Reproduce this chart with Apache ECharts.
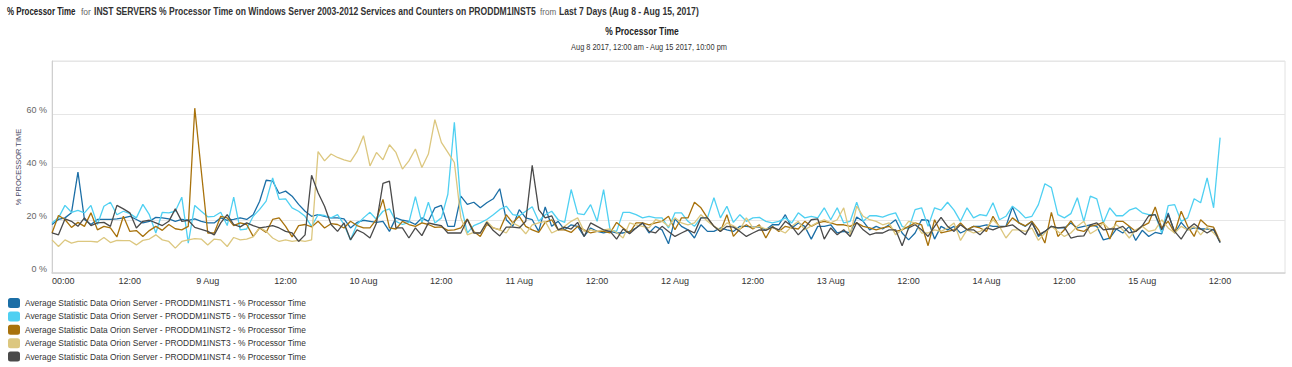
<!DOCTYPE html>
<html><head><meta charset="utf-8">
<script src="https://cdn.jsdelivr.net/npm/echarts/dist/echarts.min.js"></script>
<style>html,body{margin:0;padding:0;background:#fff}#c{width:1292px;height:367px}</style>
</head><body><div id="c"></div>
<script>
// x axis: hours since Aug 8 2017 00:00, one sample per hour
const xTickLabels = ['00:00','12:00','9 Aug','12:00','10 Aug','12:00','11 Aug','12:00','12 Aug','12:00','13 Aug','12:00','14 Aug','12:00','15 Aug','12:00'];
const yTickLabels = ['0 %','20 %','40 %','60 %'];
const seriesNames = [
  'Average Statistic Data Orion Server - PRODDM1INST1 - % Processor Time',
  'Average Statistic Data Orion Server - PRODDM1INST5 - % Processor Time',
  'Average Statistic Data Orion Server - PRODDM1INST2 - % Processor Time',
  'Average Statistic Data Orion Server - PRODDM1INST3 - % Processor Time',
  'Average Statistic Data Orion Server - PRODDM1INST4 - % Processor Time'
];
const inst1 = [18.3,20.2,20.8,22.7,38.1,20.2,18.3,20.2,20.2,20.2,20.4,20.8,21.4,20.2,18.9,19.5,21,20.8,20.4,19.5,20.2,19.9,20.4,
19.5,18.9,18.9,20.8,19.9,20.2,20.8,20.2,22,27.1,35,34.7,30,30.9,29,25.9,23.3,21.4,22,21.4,20.8,20.8,20.4,
17,19.1,19.9,19.5,19.1,19.5,15.7,20.8,19.9,19.5,18.3,20.8,19.5,24.6,25.5,17.6,17.6,29,25.9,26.7,24.6,26.5,
28,
31.8,20.1,17.6,23.9,20.8,20.1,15.7,24.9,17.6,19.5,16.3,18.2,17.6,13.8,17,15.7,15.1,15.7,15.1,15.1,15.7,17,18.9,15.1,17.6,16.3,11,20.4,17.6,16.3,13.2,18.2,15.7,15.7,17,16.3,15.7,17.6,17.6,17.3,17.3,16.3,18.2,
18.2,22,17,18.9,17.6,12.8,17.6,17.6,18.2,15.1,15.7,15.1,21.1,19.5,16.3,17.6,16.6,18.2,20.1,15.1,12.5,15.1,20.1,19.9,12.8,17.6,16.3,17.6,15.1,16.3,17.6,17.6,18.2,17.6,17.6,17.6,24.9,18.9,17.6,19.5,13.8,
15.7,17.6,17,17,18.9,17,17.6,18.2,17.6,12.5,13.2,16.6,15.1,17.6,12.3,16.1,13.8,15.3,14.8,22.7,15.1,19.1,16.3,17,16.6,16.6,16.3,11.5];
const inst5 = [18.9,20.8,25.5,22.9,23.6,22.7,25.5,18.3,25.2,26.7,22,23.3,22.4,20.8,25.9,22,15.1,22.9,22.7,23.3,28.6,11.3,25.5,
23.3,21.2,21.4,22.9,17.9,28.6,16.3,16.6,21.4,24,27.1,35.9,27.8,28,24.6,23.3,21.4,17.6,22,21.7,20.8,22,18.3,
12.5,18.3,20.8,22.9,20.2,23.3,24.2,19.5,18.3,19.1,28.8,18.9,26.7,18.9,20.8,29.7,56.9,25.9,15.1,17.9,18.9,20.2,
22,
24,25.2,22,21.6,23.3,25,19.5,22,23.3,20.1,19.1,31.5,22.4,22,25.8,19.5,31.5,16.3,15.7,22.9,22.9,22,20.8,21.4,20.8,20.8,17,22.7,22.7,19.5,17.6,20.8,20.8,28.4,20.8,25.2,19.1,22,19.5,20.8,21,19.5,18.9,
19.5,20.8,18.9,22.7,20.8,21.4,20.8,24.6,20.1,24.6,18.9,19.5,26.7,19.5,21.6,21.6,21.1,22,22.7,17.6,16.6,23.9,24.6,17.6,24.6,23.7,26.7,23.7,19.5,24.6,20.8,22,21.6,26.5,20.1,21.4,25.2,23.3,20.8,21.4,25.8,
33.7,32.2,22,20.8,22.4,28.4,19.5,29,28,18.9,24.6,21.6,21.6,23.7,24.6,22.7,22,22,15.1,25.4,25.8,19.5,20.8,28,26.5,35.9,24.6,51.1];
const inst2 = [15.1,21.7,20.2,17.2,19.1,17.6,22.7,16.3,17.6,17,13.6,21.4,15.7,16,13.8,16,17.6,16.1,18.3,16.7,16.3,17.6,62.2,
38.6,15.1,15.1,21.4,20.8,17.9,18.9,18.3,13.8,17,15.3,20.2,20.8,17.6,13.6,17.9,18.3,17.4,19.5,17,18.6,18.3,17,
19.5,17.9,17,17,20.2,27.8,17,16.6,19.5,18.3,17.6,18.9,18.3,17.2,17.4,16.1,16.3,17,20.4,15.7,13.8,18.3,
17,
16.3,22,18.9,21.4,17.6,16.3,15.3,19.1,20.1,16.3,16.3,15.3,17.6,16.3,15.1,15.7,15.7,15.1,19.1,17,15.1,18.9,18.9,18.2,18.9,19.5,21.4,16.3,20.8,20.8,26.7,24.6,20.8,17.6,15.7,22,13.8,16.6,18.2,16.6,18.2,13.2,17.6,
15.7,17.6,17,16.6,19.5,17.6,18.9,19.5,18.9,18.2,18.2,17.6,18.9,17.6,17,16.3,17,17.6,15.7,16.3,17.6,18.9,18.2,10.3,20.1,15.1,15.7,16.3,18.9,16.3,17.6,17,15.7,21.4,17.3,17.6,20.8,18.9,17.8,19.5,16.3,
11.3,22.9,13.8,16.3,19.7,16.3,15.7,17.6,18.2,19.1,12.8,19.5,19.5,17.6,15.7,17.6,18.9,24.9,17,19.5,15.1,23.3,17.6,13.8,20.1,17.8,17.3,11.9];
const inst3 = [12.5,10,12.5,11.3,11.9,11.9,11.9,11.7,13.4,11.5,12.3,12.2,12.2,10.6,12.3,12.8,14.4,12.5,11.9,9.4,11.9,12.5,13,
12.8,10.6,12.8,12.5,10,13.4,12.5,12.8,13.6,17.2,15.7,13.2,11.9,12.5,11.9,12.3,11.9,12.5,45.8,42.3,44.9,43.6,42.7,
42,45.8,51.8,40.4,45.5,42.7,48.4,45.5,39.2,42.3,46.8,39.8,44.9,57.9,49.3,45.5,41.7,20.8,14.4,15.3,15.1,19.5,
17,
16.3,15.1,18.9,17.6,14.8,18.2,18.9,19.5,15.1,16.3,17.6,19.5,20.8,15.7,16.3,15.7,16.3,16.6,15.3,13.2,18.9,18.2,17.6,17,20.1,19.5,17.6,20.8,18.9,18.2,18.9,22,19.5,17.6,16.3,18.9,17.8,16.3,20.8,17,17.6,16.6,17,
16.3,15.1,17.6,19.5,16.3,17.8,19.1,20.1,18.9,20.1,24.6,14.4,25.2,21.4,20.1,19.5,18.2,18.9,14.4,16.3,19.5,18.9,15.1,15.1,16.3,15.7,17,18.9,12.3,16.3,15.1,15.7,17,20.1,17.6,13.2,16.3,16.3,15.7,17,12.3,
15.1,17.6,15.7,13.8,15.1,17.6,19.5,14.8,16.3,18.9,16.3,18.2,16.3,13.2,16.3,17.6,15.7,16.3,20.1,17,15.1,17.6,16.3,17.6,14.4,17.3,15.1,12.5];
const inst4 = [15.1,14.4,20.4,19.5,17.6,20.8,17.9,18.9,19.1,17.6,25.5,24.2,22.7,17,19.5,19.9,18.9,17.9,19.5,24.2,19.5,19.9,17.2,
16.5,15.7,14.4,18.9,22,18.3,17.4,18.9,17.9,17,17.4,17.9,17,15.7,15.1,11.9,14.4,36.9,30.3,25.2,18.3,15.7,18.9,
12.5,16.3,15.1,13.2,18.9,33.8,34.7,17,17,13.2,17,14.1,18.9,18.3,17.9,15.1,15.1,15.1,20.2,15.1,15.1,19.1,
16,
14,17.3,17.3,17,19.5,40.6,23.9,20.8,21.6,16.3,17.3,16.6,19.1,13.8,18.9,17.6,16.3,15.7,12.8,16.6,14.8,17,18.9,15.7,15.1,17.6,15.7,13.8,15.1,16.3,15.1,20.8,20.8,17.6,15.7,17.6,17.3,15.7,13.8,15.1,16.3,16.1,17.3,
16.3,19.5,17.6,14.4,17,20.1,20.4,12.8,17,14.4,16.3,13.8,19.1,16.3,14.4,15.1,15.1,16.3,16.3,10.3,17,18.2,16.3,13.8,17.6,21,17.6,15.7,18.2,16.3,16.3,14.4,17,16.3,17.3,17.6,18.2,16.3,14.4,18.9,14.4,
15.7,17.6,17,17.3,13.2,13.8,14,18.2,18.9,16.3,16.6,16.6,17.6,15.1,15.7,17.8,21.6,22,16.3,22,15.7,12.8,16.6,18.6,16.6,15.1,16.6,11.5];
const seriesValues = [inst1, inst5, inst2, inst3, inst4];
const seriesColors = ['#1b6ea6', '#4fd0f2', '#a8720c', '#dcc77f', '#4a4a4a'];

const FONT = "'Liberation Sans', Arial, sans-serif";
function txt(x, y, text, scaleX, st) {
  return {type: 'text', x: x, y: y, scaleX: scaleX, silent: true,
    style: Object.assign({text: text, verticalAlign: 'middle', fontFamily: FONT, fill: '#333'}, st)};
}
const chart = echarts.init(document.getElementById('c'), null, {renderer: 'svg'});
chart.setOption({
  animation: false,
  backgroundColor: '#fff',
  graphic: [
    txt(7, 11, '% Processor Time', 0.69, {fontWeight: 'bold', fontSize: 11.5, fill: '#222'}),
    txt(81, 11.5, 'for', 0.9, {fontSize: 9.5, fill: '#666'}),
    txt(94, 11, 'INST SERVERS % Processor Time on Windows Server 2003-2012 Services and Counters on PRODDM1INST5', 0.816, {fontWeight: 'bold', fontSize: 10.5, fill: '#333'}),
    txt(540, 11.5, 'from', 0.85, {fontSize: 9.5, fill: '#666'}),
    txt(559, 11, 'Last 7 Days (Aug 8 - Aug 15, 2017)', 0.82, {fontWeight: 'bold', fontSize: 10.5, fill: '#333'}),
    txt(642, 31, '% Processor Time', 0.74, {textAlign: 'center', fontWeight: 'bold', fontSize: 11.5, fill: '#222'}),
    txt(649, 47, 'Aug 8 2017, 12:00 am - Aug 15 2017, 10:00 pm', 0.78, {textAlign: 'center', fontSize: 9.5, fill: '#333'})
  ],
  grid: {left: 52, right: 7, top: 61, bottom: 94, show: true, borderColor: '#e2e2e2', borderWidth: 1},
  legend: {
    orient: 'vertical', left: 8, top: 298, padding: 0, itemWidth: 12, itemHeight: 10, itemGap: 3.4,
    icon: 'roundRect', data: seriesNames,
    textStyle: {fontFamily: FONT, fontSize: 8.4, lineHeight: 10, color: '#333'}
  },
  xAxis: {
    type: 'value', min: 0, max: 190, interval: 12,
    axisLine: {show: true, lineStyle: {color: '#d6d6d6', width: 1.5}},
    axisTick: {show: false},
    splitLine: {show: false},
    axisLabel: {
      color: '#333', fontSize: 9, fontFamily: FONT, margin: 3, alignMinLabel: 'left', showMaxLabel: false,
      formatter: v => (v % 12 === 0 && xTickLabels[v / 12] !== undefined) ? xTickLabels[v / 12] : ''
    }
  },
  yAxis: {
    type: 'value', min: 0, max: 80, interval: 20,
    name: '% PROCESSOR TIME', nameLocation: 'middle', nameGap: 30, nameMoveOverlap: false,
    nameTextStyle: {fontSize: 7.5, color: '#4a4a66', fontFamily: FONT},
    axisLine: {show: true, lineStyle: {color: '#cfcfcf', width: 1}},
    axisTick: {show: false},
    splitLine: {show: true, lineStyle: {color: '#e6e6e6', width: 1}},
    axisLabel: {
      color: '#666', fontSize: 9, fontFamily: FONT, margin: 5, verticalAlign: 'bottom', lineHeight: 8,
      formatter: v => yTickLabels[v / 20] || ''
    }
  },
  series: seriesValues.map((vals, k) => ({
    name: seriesNames[k], type: 'line', showSymbol: false, symbol: 'none',
    color: seriesColors[k],
    lineStyle: {width: 1.3, color: seriesColors[k]},
    itemStyle: {color: seriesColors[k]},
    data: vals.map((v, i) => [i, v])
  }))
});
</script></body></html>
